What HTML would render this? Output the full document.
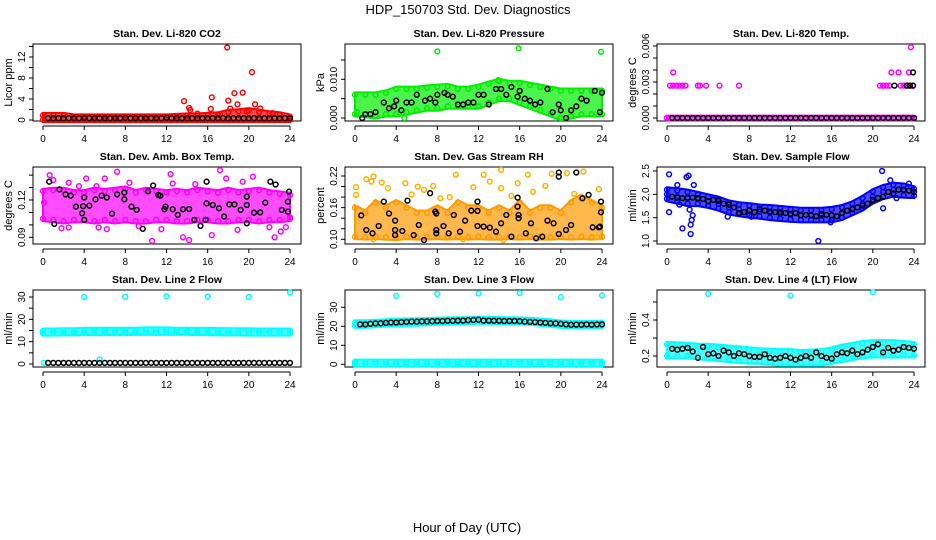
<!DOCTYPE html>
<html><head><meta charset="utf-8">
<style>
html,body{margin:0;padding:0;background:#fff;}
svg{display:block;font-family:"Liberation Sans",Arial,sans-serif;}
</style></head>
<body>
<svg id="chart" width="936" height="540" viewBox="0 0 936 540" xmlns="http://www.w3.org/2000/svg">
<rect x="0" y="0" width="936" height="540" fill="#fff"/>
<text x="468" y="14" font-size="13" text-anchor="middle">HDP_150703  Std. Dev. Diagnostics</text>
<text x="467" y="532" font-size="13" text-anchor="middle">Hour of Day (UTC)</text>
</svg>
<script>
// ---------- data ----------
const HOURS = [0,1,2,3,4,5,6,7,8,9,10,11,12,13,14,15,16,17,18,19,20,21,22,23,24];
const HALF_HOURS = [0.5,1,1.5,2,2.5,3,3.5,4,4.5,5,5.5,6,6.5,7,7.5,8,8.5,9,9.5,10,10.5,11,11.5,12,12.5,13,13.5,14,14.5,15,15.5,16,16.5,17,17.5,18,18.5,19,19.5,20,20.5,21,21.5,22,22.5,23,23.5,24];
const X_TICKS = [0,4,8,12,16,20,24];

// P1 CO2
const co2BandLo = [0.05,0.05,0.05,0.05,0.05,0.05,0.05,0.05,0.05,0.05,0.05,0.05,0.05,0.05,0.05,0.05,0.05,0.05,0.05,0.05,0.05,0.05,0.05,0.05,0.05];
const co2BandHi = [0.9,0.9,0.9,0.6,0.6,0.6,0.6,0.6,0.6,0.6,0.6,0.6,0.6,0.7,0.8,0.8,0.9,1.0,1.5,1.6,1.8,1.5,1.2,1.0,0.6];
const co2OutX = [13.7,14.2,14.3,15,16.3,16.4,17.9,18,18.2,18.6,18.9,19.4,20.3,20.6,21.1,22.3,17.2,19.8];
const co2OutY = [3.6,2.3,1.9,1.2,2.1,4.3,13.8,3.7,2.2,5.1,3.0,5.2,9.1,3.0,2.2,1.3,1.1,1.6];
const co2Black = [0.35,0.35,0.35,0.35,0.35,0.35,0.35,0.4,0.35,0.35,0.35,0.35,0.35,0.35,0.35,0.4,0.35,0.35,0.35,0.35,0.35,0.35,0.35,0.4,0.35,0.35,0.35,0.35,0.35,0.35,0.35,0.35,0.35,0.35,0.35,0.35,0.35,0.35,0.35,0.35,0.35,0.35,0.35,0.35,0.35,0.35,0.35,0.35];

// P2 Pressure
const presBandLo = [0.001,0.0008,0.0005,0.001,0.001,0.0015,0.002,0.0025,0.0025,0.003,0.003,0.003,0.003,0.004,0.005,0.005,0.004,0.003,0.002,0.001,0.0,0.0005,0.001,0.001,0.001];
const presBandHi = [0.006,0.006,0.006,0.0065,0.0075,0.0075,0.0075,0.0078,0.008,0.0082,0.0075,0.0075,0.008,0.0088,0.0095,0.009,0.009,0.0085,0.008,0.0075,0.007,0.007,0.007,0.007,0.007];
const presOutX = [8,15.9,23.9,4.8,0.2,13.9];
const presOutY = [0.0172,0.018,0.0171,0.0,0.0015,0.0098];
const presBlackX = [0.7,1,1.5,2,2.8,3.3,3.8,4,4.5,5,5.5,6,6.8,7.3,7.8,8,8.7,9,9.5,10,10.5,11,11.5,12,12.5,13,13.7,14.2,14.7,15.2,15.8,16,16.5,17,17.5,18,18.7,19.2,19.8,20,20.5,21,21.5,22,22.5,23.3,23.8,24];
const presBlackY = [0.0,0.001,0.001,0.0015,0.004,0.0025,0.003,0.0045,0.002,0.004,0.004,0.006,0.0045,0.005,0.004,0.006,0.0065,0.006,0.0055,0.0035,0.0035,0.004,0.004,0.006,0.006,0.0035,0.0075,0.0075,0.006,0.008,0.0055,0.007,0.005,0.0045,0.0035,0.004,0.0075,0.0015,0.0035,0.002,0.0,0.002,0.003,0.005,0.0045,0.007,0.0015,0.0065];

// P3 Li-820 Temp
const tempMagX = [0.3,0.6,0.9,1.2,1.5,1.8,3.0,3.2,3.8,5.1,7.0,20.7,21.0,21.3,21.6,22.7,23.0,23.3,23.6,23.9,0.6,21.8,22.5,23.5,23.7];
const tempMagY = [0.0027,0.0027,0.0027,0.0027,0.0027,0.0027,0.0027,0.0027,0.0027,0.0027,0.0027,0.0027,0.0027,0.0027,0.0027,0.0027,0.0027,0.0027,0.0027,0.0027,0.0038,0.0038,0.0038,0.0038,0.0059];
const tempBandLo = [0,0,0,0,0,0,0,0,0,0,0,0,0,0,0,0,0,0,0,0,0,0,0,0,0];
const tempBandHi = [0,0,0,0,0,0,0,0,0,0,0,0,0,0,0,0,0,0,0,0,0,0,0,0,0];
const tempBlackX = [22.1,23.3,23.6,23.9,23.9];
const tempBlackY = [0.0027,0.0027,0.0027,0.0027,0.0038];
const tempBlackZero = [0,0,0,0,0,0,0,0,0,0,0,0,0,0,0,0,0,0,0,0,0,0,0,0,0,0,0,0,0,0,0,0,0,0,0,0,0,0,0,0,0,0,0,0,0,0,0,0];

// P4 Amb box temp
const ambBandLo = [0.105,0.104,0.103,0.104,0.104,0.103,0.104,0.103,0.104,0.103,0.103,0.104,0.104,0.103,0.103,0.104,0.104,0.103,0.103,0.104,0.104,0.103,0.104,0.104,0.105];
const ambBandHi = [0.127,0.128,0.128,0.126,0.126,0.128,0.127,0.128,0.129,0.126,0.128,0.127,0.126,0.127,0.126,0.128,0.127,0.126,0.128,0.126,0.127,0.128,0.126,0.125,0.124];
const ambOutX = [0.65,1,1.8,2.5,2.5,3.5,4.2,5.2,5.4,6,6.2,7.2,8.4,10.6,11.5,12.4,12.6,13.6,14.2,14.8,16.4,17.2,17.8,19.4,20.4,22,22.5,23.1,23.6,0.1,24,9.3,18.9];
const ambOutY = [0.14,0.136,0.0973,0.1339,0.0979,0.1312,0.1373,0.1312,0.0979,0.1373,0.0965,0.1427,0.1339,0.087,0.0965,0.1408,0.1333,0.09,0.0878,0.1328,0.0917,0.144,0.1373,0.1347,0.1387,0.0981,0.09,0.0947,0.0981,0.118,0.106,0.099,0.096];
const ambBlackX = [0.6,1.1,1.6,2.2,2.7,3.2,3.8,3.9,4,4,4.5,5.1,5.7,6.2,6.7,7.2,7.9,7.9,8.6,9.1,9.7,10.2,10.7,11.2,11.4,11.8,11.9,12.6,13.1,13.6,14.2,14.7,15.3,15.8,15.9,15.9,16.5,17.1,17.6,18.1,18.6,19.2,19.8,19.8,19.8,20.5,21.1,21.6,22.1,22.6,23.2,23.8,23.9,23.8];
const ambBlackY = [0.1347,0.1008,0.1285,0.1245,0.1235,0.1147,0.1093,0.115,0.104,0.122,0.1155,0.1205,0.1235,0.122,0.109,0.1245,0.126,0.1205,0.1147,0.112,0.0968,0.127,0.1317,0.124,0.1235,0.1125,0.1147,0.1125,0.108,0.1125,0.1128,0.104,0.0992,0.104,0.1173,0.1347,0.116,0.1133,0.1067,0.1165,0.1165,0.112,0.1227,0.116,0.1013,0.1098,0.11,0.1178,0.1347,0.1325,0.112,0.1107,0.1267,0.1187];

// P5 Gas stream RH
const rhBandLo = [0.105,0.104,0.105,0.104,0.103,0.105,0.104,0.104,0.105,0.104,0.105,0.104,0.105,0.104,0.104,0.105,0.104,0.105,0.104,0.104,0.105,0.104,0.105,0.104,0.105];
const rhBandHi = [0.16,0.15,0.17,0.16,0.17,0.16,0.15,0.15,0.16,0.15,0.17,0.16,0.16,0.15,0.16,0.15,0.17,0.15,0.16,0.16,0.15,0.17,0.18,0.17,0.16];
const rhOutX = [0.1,0.1,1.1,1.6,1.8,2.6,3.2,4.9,6.1,6.7,7.6,9.8,11.5,12.5,13.1,14.2,14.2,15.2,15.8,16.8,18.5,19.1,20.6,22.2,23.7,23.5,14.4,10.5,1.8,5.5,8.3,17.3,21.3,9.2];
const rhOutY = [0.1987,0.1842,0.2139,0.2095,0.219,0.2076,0.1968,0.2063,0.2,0.1937,0.2013,0.2222,0.1987,0.2222,0.2095,0.2316,0.1968,0.1823,0.2063,0.2222,0.2013,0.2241,0.2253,0.2285,0.1949,0.1038,0.0987,0.1,0.1,0.185,0.178,0.19,0.186,0.18];
const rhBlackX = [0.6,1.1,1.7,2.3,2.8,3.3,3.9,3.9,3.9,4.6,5.1,5.7,6.2,6.7,7.3,7.8,7.9,7.9,7.9,8.6,9.1,9.6,10.2,10.7,11.3,11.9,11.9,11.9,12.5,13.1,13.7,14.2,14.7,15.2,15.8,15.8,15.9,15.9,16.6,17.1,17.6,18.2,18.7,19.3,19.8,19.8,19.8,20.5,21,21.5,22.1,22.7,23.1,23.7,23.9,23.9,23.8];
const rhBlackY = [0.1453,0.1177,0.1114,0.1253,0.1715,0.149,0.1354,0.1177,0.108,0.1158,0.1734,0.108,0.1272,0.0987,0.1873,0.1525,0.149,0.1177,0.1114,0.1253,0.1114,0.146,0.1145,0.1354,0.1544,0.1715,0.1538,0.1253,0.124,0.1221,0.1145,0.1304,0.146,0.1051,0.1791,0.162,0.146,0.14,0.1114,0.1304,0.1019,0.1051,0.1354,0.1304,0.1101,0.2266,0.2187,0.1177,0.1272,0.2266,0.1778,0.1842,0.1228,0.1228,0.1715,0.1513,0.124];

// P6 Sample flow
const sfCenter = [2.0,1.95,1.92,1.9,1.85,1.8,1.72,1.68,1.65,1.63,1.6,1.58,1.56,1.55,1.55,1.55,1.55,1.6,1.7,1.8,1.95,2.05,2.1,2.08,2.05];
const sfBandLo = [1.9,1.85,1.8,1.8,1.76,1.7,1.62,1.58,1.55,1.53,1.5,1.48,1.46,1.45,1.45,1.45,1.45,1.5,1.6,1.7,1.85,1.95,2.0,1.98,1.97];
const sfBandHi = [2.1,2.08,2.05,2.0,1.95,1.9,1.82,1.78,1.76,1.73,1.72,1.7,1.68,1.66,1.66,1.66,1.68,1.72,1.8,1.92,2.06,2.15,2.2,2.18,2.12];
const sfOutX = [0.2,0.2,1.5,1.9,2.1,2.3,2.3,2.5,2.6,2.2,1,20.9,21,21.7,22.3,15.9,14.7,5.9,8.2,23.5,2.4,1.2];
const sfOutY = [2.43,1.62,1.27,2.37,2.4,1.15,1.35,1.55,2.2,1.67,2.2,2.5,1.7,2.3,1.92,1.4,1.0,1.52,1.52,2.23,1.45,1.78];
const sfBlack = [1.95,1.93,1.92,1.93,1.93,1.92,1.9,1.85,1.88,1.86,1.8,1.78,1.72,1.6,1.62,1.66,1.62,1.68,1.65,1.63,1.62,1.62,1.6,1.58,1.6,1.55,1.56,1.55,1.53,1.58,1.56,1.55,1.53,1.6,1.65,1.68,1.72,1.76,1.8,1.88,1.92,1.95,2.05,2.02,2.1,2.1,2.08,2.05];

// P7 Line 2 flow
const l2BandLo = [13.8,13.8,13.9,13.9,14.0,14.0,14.0,14.0,14.0,14.1,14.1,14.1,14.1,14.1,14.1,14.0,14.0,13.9,13.9,13.9,13.8,13.8,13.8,13.8,13.8];
const l2BandHi = [14.8,14.8,14.9,14.9,15.1,15.2,15.2,15.2,15.2,15.2,15.3,15.3,15.3,15.2,15.2,15.1,15.1,15.0,15.0,14.9,14.9,14.8,14.8,14.8,14.8];
const l2OutX = [4,8,12,16,20,24,0.1,5.5];
const l2OutY = [30,30.2,30.4,30.2,30,32,0.5,2];
const l2Black = [0.5,0.5,0.5,0.5,0.5,0.5,0.5,0.5,0.5,0.5,0.5,0.5,0.5,0.5,0.5,0.5,0.5,0.5,0.5,0.5,0.5,0.5,0.5,0.5,0.5,0.5,0.5,0.5,0.5,0.5,0.5,0.5,0.5,0.5,0.5,0.5,0.5,0.5,0.5,0.5,0.5,0.5,0.5,0.5,0.5,0.5,0.5,0.5];

// P8 Line 3 flow
const l3LowLo = [0,0,0,0,0,0,0,0,0,0,0,0,0,0,0,0,0,0,0,0,0,0,0,0,0];
const l3LowHi = [1.2,1.2,1.2,1.2,1.2,1.2,1.2,1.2,1.2,1.2,1.2,1.2,1.2,1.2,1.2,1.2,1.2,1.2,1.2,1.2,1.2,1.2,1.2,1.2,1.2];
const l3BandLo = [20.4,20.4,20.8,21.0,21.3,21.4,21.6,21.8,22.0,22.1,22.3,22.4,22.6,22.5,22.4,22.3,22.2,22.0,21.6,21.0,20.4,20.3,20.3,20.3,20.4];
const l3BandHi = [21.9,21.9,22.2,22.4,22.8,22.9,23.0,23.1,23.3,23.4,23.5,23.6,23.8,23.7,23.6,23.5,23.4,23.2,22.8,22.4,21.8,21.6,21.6,21.6,21.7];
const l3OutX = [4,8,12,16,20,24];
const l3OutY = [36,37,37.3,37.5,35.3,36.2];
const l3Black = [21,21,21.3,21.5,21.6,21.8,22,22,22.2,22.3,22.5,22.4,22.6,22.6,22.7,22.8,22.8,22.9,22.9,23,23,23.2,23.3,23.5,23,23,22.9,22.9,22.8,22.8,22.8,22.7,22.5,22.3,22.2,22,21.8,21.6,21.5,21.3,21,20.8,20.9,20.8,21,20.8,21,21];

// P9 Line 4 flow
const l4BandLo = [0.2,0.2,0.2,0.195,0.19,0.185,0.18,0.175,0.17,0.17,0.165,0.16,0.16,0.16,0.16,0.16,0.17,0.18,0.19,0.2,0.205,0.205,0.205,0.205,0.205];
const l4BandHi = [0.265,0.262,0.26,0.255,0.255,0.25,0.245,0.24,0.235,0.23,0.228,0.225,0.225,0.22,0.222,0.225,0.235,0.25,0.26,0.27,0.275,0.275,0.275,0.27,0.265];
const l4OutX = [4,12,20];
const l4OutY = [0.545,0.535,0.555];
const l4Black = [0.24,0.235,0.24,0.245,0.225,0.19,0.25,0.21,0.215,0.2,0.23,0.22,0.2,0.215,0.21,0.2,0.195,0.195,0.21,0.19,0.185,0.19,0.2,0.19,0.18,0.19,0.2,0.19,0.22,0.2,0.19,0.185,0.21,0.22,0.215,0.23,0.21,0.22,0.235,0.25,0.265,0.22,0.245,0.23,0.235,0.25,0.245,0.24];

// ---------- rendering ----------
const NS = 'http://www.w3.org/2000/svg';
const svg = document.getElementById('chart');
function mk(tag, attrs, parent){const e=document.createElementNS(NS,tag);for(const k in attrs)e.setAttribute(k,attrs[k]);(parent||svg).appendChild(e);return e;}

const panels = [
 {id:'co2',col:0,row:0,title:'Stan. Dev. Li-820 CO2',ylab:'Licor ppm',ym:[0,120,12,57],ticks:[0,2,4,6,8,10,12,14],labels:[0,4,8,12],fmt:v=>String(v),color:'#ff0000'},
 {id:'pressure',col:1,row:0,title:'Stan. Dev. Li-820 Pressure',ylab:'kPa',ym:[0,118,0.01,79.3],ticks:[0,0.005,0.01,0.015],labels:[0,0.01],fmt:v=>v.toFixed(3),color:'#00ee00'},
 {id:'li820-temp',col:2,row:0,title:'Stan. Dev. Li-820 Temp.',ylab:'degrees C',ym:[0,118,0.006,46],ticks:[0,0.001,0.002,0.003,0.004,0.005,0.006],labels:[0,0.003,0.006],fmt:v=>v.toFixed(3),color:'#ff00ff'},
 {id:'amb-box-temp',col:0,row:1,title:'Stan. Dev. Amb. Box Temp.',ylab:'degrees C',ym:[0.12,200,0.09,237.3],ticks:[0.09,0.10,0.11,0.12,0.13,0.14],labels:[0.09,0.12],fmt:v=>v.toFixed(2),color:'#ff00ff'},
 {id:'gas-stream-rh',col:1,row:1,title:'Stan. Dev. Gas Stream RH',ylab:'percent',ym:[0.10,239.3,0.22,176],ticks:[0.10,0.12,0.14,0.16,0.18,0.20,0.22],labels:[0.10,0.16,0.22],fmt:v=>v.toFixed(2),color:'#ff9a00'},
 {id:'sample-flow',col:2,row:1,title:'Stan. Dev. Sample Flow',ylab:'ml/min',ym:[1.0,241,2.5,171],ticks:[1.0,1.5,2.0,2.5],labels:[1.0,1.5,2.0,2.5],fmt:v=>v.toFixed(1),color:'#0000ff'},
 {id:'line2-flow',col:0,row:2,title:'Stan. Dev. Line 2 Flow',ylab:'ml/min',ym:[0,364,30,297],ticks:[0,5,10,15,20,25,30],labels:[0,10,20,30],fmt:v=>String(v),color:'#00ffff'},
 {id:'line3-flow',col:1,row:2,title:'Stan. Dev. Line 3 Flow',ylab:'ml/min',ym:[0,364.3,30,307.3],ticks:[0,10,20,30],labels:[0,10,20,30],fmt:v=>String(v),color:'#00ffff'},
 {id:'line4-flow',col:2,row:2,title:'Stan. Dev. Line 4 (LT) Flow',ylab:'ml/min',ym:[0.2,356,0.4,320],ticks:[0.2,0.3,0.4,0.5],labels:[0.2,0.4],fmt:v=>v.toFixed(1),color:'#00ffff'}
];

function scales(p){
  const x0=43+312*p.col, x1=290+312*p.col;
  const xs=h=>x0+(x1-x0)*h/24;
  const [v1,p1,v2,p2]=p.ym;
  const ys=v=>p1+(v-v1)*(p2-p1)/(v2-v1);
  return {xs,ys};
}

function drawFrame(p){
  const g=mk('g',{});
  
  
  const bl=33+312*p.col, br=301+312*p.col, bt=44+123*p.row, bb=121+123*p.row;
  const {xs,ys}=scales(p);
  const t=mk('text',{x:(bl+br)/2,y:bt-7,'font-size':10.5,'font-weight':'bold','text-anchor':'middle'},g);
  t.textContent=p.title;
  
  
  const box=mk('rect',{x:bl,y:bt,width:br-bl,height:bb-bt,fill:'none',stroke:'#000','stroke-width':1},g);
  
  
  const xa=mk('g',{},g);
  
  
  const ay=bb+5;
  mk('line',{x1:xs(0),y1:ay,x2:xs(24),y2:ay,stroke:'#000'},xa);
  X_TICKS.forEach(h=>{
    mk('line',{x1:xs(h),y1:ay,x2:xs(h),y2:ay+4,stroke:'#000'},xa);
    const l=mk('text',{x:xs(h),y:ay+16,'font-size':10,'text-anchor':'middle'},xa);
    l.textContent=h;
    
    
  });
  const ya=mk('g',{},g);
  
  
  const ax=bl;
  mk('line',{x1:ax,y1:ys(p.ticks[0]),x2:ax,y2:ys(p.ticks[p.ticks.length-1]),stroke:'#000'},ya);
  p.ticks.forEach(v=>{mk('line',{x1:ax-4,y1:ys(v),x2:ax,y2:ys(v),stroke:'#000'},ya);});
  p.labels.forEach(v=>{
    const l=mk('text',{x:0,y:0,'font-size':10,'text-anchor':'middle',transform:`translate(${ax-8},${ys(v)}) rotate(-90)`},ya);
    l.textContent=p.fmt(v);
    
    
  });
  const yt=mk('text',{x:0,y:0,'font-size':11,'text-anchor':'middle',transform:`translate(${ax-21},${(bt+bb)/2}) rotate(-90)`},g);
  yt.textContent=p.ylab;
  
  
  return g;
}

function pts(g,p,xsArr,ysArr,color,name){
  const {xs,ys}=scales(p);
  const s=mk('g',{fill:'none',stroke:color,'stroke-width':1.5},g);
  
  
  for(let i=0;i<ysArr.length;i++){
    const c=mk('circle',{cx:xs(xsArr[i]).toFixed(1),cy:ys(ysArr[i]).toFixed(1),r:2.4},s);
    
    
  }
}
function band(g,p,lo,hi,color,name){
  const {xs,ys}=scales(p);
  let d='';
  HOURS.forEach((h,i)=>{d+=(i?'L':'M')+xs(h).toFixed(1)+','+(ys(hi[i])-2.4).toFixed(1);});
  for(let i=HOURS.length-1;i>=0;i--){d+='L'+xs(HOURS[i]).toFixed(1)+','+(ys(lo[i])+2.4).toFixed(1);}
  const b=mk('path',{d:d+'Z',fill:color,'fill-opacity':0.7,stroke:color,'stroke-width':2},g);
  
  
  pts(g,p,HOURS,hi,color,name+'-upper');
  pts(g,p,HOURS,lo,color,name+'-lower');
}

const P = {}; panels.forEach(p=>{P[p.id]={p,g:drawFrame(p)};});

let q;
q=P['co2']; band(q.g,q.p,co2BandLo,co2BandHi,'#ff0000','co2-cloud'); pts(q.g,q.p,co2OutX,co2OutY,'#ff0000','co2-outliers'); pts(q.g,q.p,HALF_HOURS,co2Black,'#000','co2-hourly');
q=P['pressure']; band(q.g,q.p,presBandLo,presBandHi,'#00ee00','pressure-cloud'); pts(q.g,q.p,presOutX,presOutY,'#00ee00','pressure-outliers'); pts(q.g,q.p,presBlackX,presBlackY,'#000','pressure-hourly');
q=P['li820-temp']; band(q.g,q.p,tempBandLo,tempBandHi,'#ff00ff','temp-cloud'); pts(q.g,q.p,tempMagX,tempMagY,'#ff00ff','temp-outliers'); pts(q.g,q.p,HALF_HOURS,tempBlackZero,'#000','temp-hourly'); pts(q.g,q.p,tempBlackX,tempBlackY,'#000','temp-hourly-high');
q=P['amb-box-temp']; band(q.g,q.p,ambBandLo,ambBandHi,'#ff00ff','amb-cloud'); pts(q.g,q.p,ambOutX,ambOutY,'#ff00ff','amb-outliers'); pts(q.g,q.p,ambBlackX,ambBlackY,'#000','amb-hourly');
q=P['gas-stream-rh']; band(q.g,q.p,rhBandLo,rhBandHi,'#ff9a00','rh-cloud'); pts(q.g,q.p,rhOutX,rhOutY,'#ffb000','rh-outliers'); pts(q.g,q.p,rhBlackX,rhBlackY,'#000','rh-hourly');
q=P['sample-flow']; band(q.g,q.p,sfBandLo,sfBandHi,'#0000ff','sample-flow-cloud'); pts(q.g,q.p,HOURS,sfCenter,'#0000ff','sample-flow-center'); pts(q.g,q.p,sfOutX,sfOutY,'#0000ff','sample-flow-outliers'); pts(q.g,q.p,HALF_HOURS,sfBlack,'#000','sample-flow-hourly');
q=P['line2-flow']; band(q.g,q.p,l2BandLo,l2BandHi,'#00ffff','line2-cloud'); pts(q.g,q.p,l2OutX,l2OutY,'#00ffff','line2-outliers'); pts(q.g,q.p,HALF_HOURS,l2Black,'#000','line2-hourly');
q=P['line3-flow']; band(q.g,q.p,l3LowLo,l3LowHi,'#00ffff','line3-low-cloud'); band(q.g,q.p,l3BandLo,l3BandHi,'#00ffff','line3-cloud'); pts(q.g,q.p,l3OutX,l3OutY,'#00ffff','line3-outliers'); pts(q.g,q.p,HALF_HOURS,l3Black,'#000','line3-hourly');
q=P['line4-flow']; band(q.g,q.p,l4BandLo,l4BandHi,'#00ffff','line4-cloud'); pts(q.g,q.p,l4OutX,l4OutY,'#00ffff','line4-outliers'); pts(q.g,q.p,HALF_HOURS,l4Black,'#000','line4-hourly');
</script>
</body></html>
